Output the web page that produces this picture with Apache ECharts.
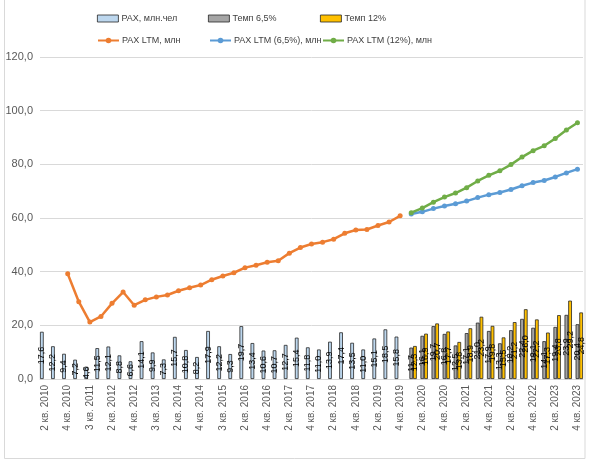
<!DOCTYPE html>
<html><head><meta charset="utf-8">
<script src="https://cdn.jsdelivr.net/npm/echarts@6/dist/echarts.min.js"></script>
<style>html,body{margin:0;padding:0;background:#fff}#c{width:590px;height:465px}</style>
</head><body><div id="c"></div>
<script>
const categories = [
  '2 кв. 2010','3 кв. 2010','4 кв. 2010','2 кв. 2011','3 кв. 2011','4 кв. 2011',
  '2 кв. 2012','3 кв. 2012','4 кв. 2012','2 кв. 2013','3 кв. 2013','4 кв. 2013',
  '2 кв. 2014','3 кв. 2014','4 кв. 2014','2 кв. 2015','3 кв. 2015','4 кв. 2015',
  '2 кв. 2016','3 кв. 2016','4 кв. 2016','1 кв. 2017','2 кв. 2017','3 кв. 2017',
  '4 кв. 2017','1 кв. 2018','2 кв. 2018','3 кв. 2018','4 кв. 2018','1 кв. 2019',
  '2 кв. 2019','3 кв. 2019','4 кв. 2019','1 кв. 2020','2 кв. 2020','3 кв. 2020',
  '4 кв. 2020','1 кв. 2021','2 кв. 2021','3 кв. 2021','4 кв. 2021','1 кв. 2022',
  '2 кв. 2022','3 кв. 2022','4 кв. 2022','1 кв. 2023','2 кв. 2023','3 кв. 2023',
  '4 кв. 2023'
];
// PAX, млн.чел (2 кв. 2010 – 4 кв. 2019)
const paxValues = [17.6,12.2,9.4,7.2,4.6,11.5,12.1,8.8,6.6,14.1,9.9,7.3,15.7,10.8,8.2,17.9,12.2,9.3,19.7,13.4,10.6,10.7,12.7,15.4,11.8,11.0,13.9,17.4,13.5,11.0,15.1,18.5,15.8];
// Темп 6,5% and Темп 12% (1 кв. 2020 – 4 кв. 2023)
const temp65Values = [11.7,16.1,19.7,16.8,12.5,17.1,21.0,17.9,13.3,18.2,22.4,19.1,14.1,19.4,23.9,20.4];
const temp12Values = [12.3,16.9,20.7,17.7,13.8,18.9,23.2,19.8,15.5,21.2,26.0,22.2,17.3,23.8,29.2,24.8];
// PAX LTM, млн (4 кв. 2010 – 4 кв. 2019)
const ltmValues = [39.2,28.8,21.2,23.3,28.2,32.4,27.5,29.5,30.6,31.3,32.9,34.0,35.0,37.0,38.4,39.6,41.5,42.4,43.5,44.1,46.9,49.0,50.3,51.0,52.1,54.3,55.5,55.7,57.2,58.5,60.8];
// PAX LTM (6,5%) and (12%) (1 кв. 2020 – 4 кв. 2023)
const ltm65Values = [61.5,62.3,63.5,64.5,65.3,66.3,67.6,68.7,69.5,70.6,72.0,73.2,74.0,75.3,76.8,78.2];
const ltm12Values = [62.0,63.7,65.9,67.8,69.3,71.3,73.8,75.9,77.6,79.9,82.7,85.1,86.9,89.6,92.8,95.5];

const N = categories.length;
function place(start, arr){ const out = new Array(N).fill(null); arr.forEach((v,i)=>{out[start+i]=v;}); return out; }
const fmt = v => v.toFixed(1).replace('.', ',');

const font = 'Liberation Sans, Arial, sans-serif';
const barLabel = {
  show: true, position: 'inside', rotate: 90, fontSize: 9, color: '#000', fontFamily: font,
  formatter: p => p.value == null ? '' : fmt(p.value)
};
function leg(name, left, top, isBar){
  const o = { data:[name], left:left, top:top, itemWidth:21, itemHeight:7, itemGap:0,
    textStyle:{fontSize:9, color:'#404040', fontFamily:font, padding:[0,0,0,-2]}, padding:0 };
  if (isBar) { o.icon = 'rect'; o.itemStyle = {borderWidth:0.8, borderColor:'#262626'}; }
  return o;
}

const chart = echarts.init(document.getElementById('c'), null, {renderer:'canvas'});
chart.setOption({
  animation:false,
  backgroundColor:'#fff',
  graphic:[{type:'rect', shape:{x:4.5, y:-2, width:580.5, height:460.5}, style:{fill:'none', stroke:'#D9D9D9', lineWidth:1}, silent:true}],
  legend:[
    leg('PAX, млн.чел', 97, 14, true), leg('Темп 6,5%', 208, 14, true), leg('Темп 12%', 320, 14, true),
    leg('PAX LTM, млн', 97, 36), leg('PAX LTM (6,5%), млн', 209, 36), leg('PAX LTM (12%), млн', 322, 36)
  ],
  grid:{left:40, right:7, top:57, bottom:86, containLabel:false},
  xAxis:{
    type:'category', data:categories,
    axisLine:{lineStyle:{color:'#D9D9D9'}}, axisTick:{show:false},
    axisLabel:{rotate:90, interval:1, fontSize:10, color:'#595959', fontFamily:font, margin:6}
  },
  yAxis:{
    type:'value', min:0, max:120, interval:20,
    axisLine:{show:false}, axisTick:{show:false},
    splitLine:{lineStyle:{color:'#D9D9D9'}},
    axisLabel:{fontSize:11, color:'#595959', fontFamily:font, formatter:v=>fmt(v), margin:7}
  },
  series:[
    {name:'PAX, млн.чел', type:'bar', data:place(0,paxValues), barGap:'0%', barCategoryGap:'0%',
      itemStyle:{color:'#BDD7EE', borderColor:'#262626', borderWidth:0.8}, label:barLabel},
    {name:'Темп 6,5%', type:'bar', data:place(33,temp65Values), barGap:'0%', barCategoryGap:'0%',
      itemStyle:{color:'#A5A5A5', borderColor:'#262626', borderWidth:0.8}, label:barLabel},
    {name:'Темп 12%', type:'bar', data:place(33,temp12Values), barGap:'0%', barCategoryGap:'0%',
      itemStyle:{color:'#FFC000', borderColor:'#262626', borderWidth:0.8}, label:barLabel},
    {name:'PAX LTM, млн', type:'line', data:place(2,ltmValues), symbol:'circle', symbolSize:5,
      lineStyle:{width:2.5, color:'#ED7D31'}, itemStyle:{color:'#ED7D31'}, z:5},
    {name:'PAX LTM (6,5%), млн', type:'line', data:place(33,ltm65Values), symbol:'circle', symbolSize:5,
      lineStyle:{width:2.5, color:'#5B9BD5'}, itemStyle:{color:'#5B9BD5'}, z:5},
    {name:'PAX LTM (12%), млн', type:'line', data:place(33,ltm12Values), symbol:'circle', symbolSize:5,
      lineStyle:{width:2.5, color:'#70AD47'}, itemStyle:{color:'#70AD47'}, z:5}
  ]
});
</script></body></html>
